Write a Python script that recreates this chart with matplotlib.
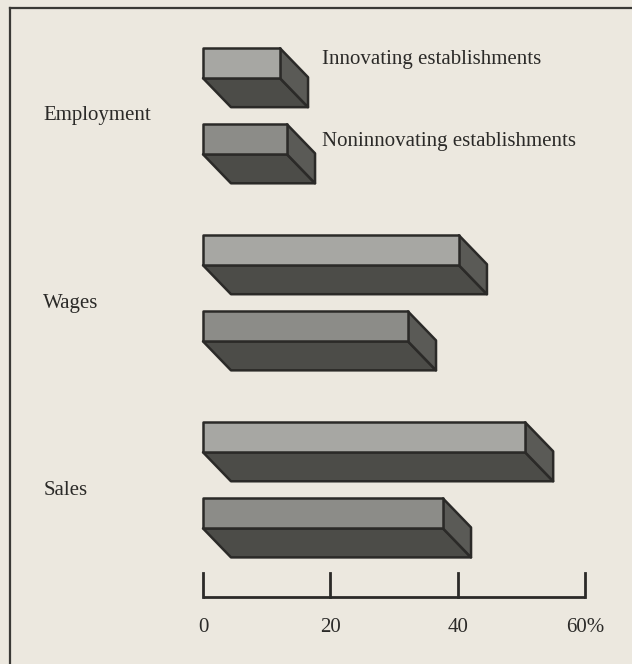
import matplotlib.pyplot as plt
from matplotlib.patches import Polygon

plt.rcParams['font.family'] = ['Liberation Serif', 'DejaVu Serif']

# Data (percent)
categories = ["Employment", "Wages", "Sales"]
series_names = ["Innovating establishments", "Noninnovating establishments"]
innovating = [12.1, 40.2, 50.6]
noninnovating = [13.2, 32.2, 37.7]
tick_values = [0, 20, 40, 60]
tick_labels = ["0", "20", "40", "60%"]

bg = "#ece8df"
ink = "#2b2a28"
top_colors = ["#a7a7a3", "#8c8c88"]
front_color = "#4c4c48"
side_color = "#5a5a56"

fig = plt.figure(figsize=(6.32, 6.64), dpi=100, facecolor=bg)
ax = fig.add_axes([0, 0, 1, 1])
ax.set_facecolor(bg)
ax.set_xlim(-31.88, 67.38)
ax.set_ylim(2.930, -0.620)
ax.axis("off")

# box geometry (x in %, y in group units)
face_h = 0.16
depth_x = 4.4
depth_y = 0.155
bar_offsets = [-0.362, 0.045]
legend_y = [-0.30, 0.139]


def draw_box(x_val, y_top, color):
    y_mid = y_top + face_h
    y_bot = y_mid + depth_y
    top = [(0, y_top), (x_val, y_top), (x_val, y_mid), (0, y_mid)]
    front = [(0, y_mid), (x_val, y_mid), (x_val + depth_x, y_bot), (depth_x, y_bot)]
    side = [(x_val, y_top), (x_val + depth_x, y_top + depth_y),
            (x_val + depth_x, y_bot), (x_val, y_mid)]
    ax.add_patch(Polygon(front, closed=True, fc=front_color, ec=ink, lw=1.8, joinstyle="round"))
    ax.add_patch(Polygon(side, closed=True, fc=side_color, ec=ink, lw=1.8, joinstyle="round"))
    ax.add_patch(Polygon(top, closed=True, fc=color, ec=ink, lw=1.8, joinstyle="round"))


for i, cat in enumerate(categories):
    for j, vals in enumerate([innovating, noninnovating]):
        draw_box(vals[i], i + bar_offsets[j], top_colors[j])
    ax.text(-25.1, i, cat, ha="left", va="center", fontsize=15, color=ink)

# legend labels beside the Employment boxes
for j, name in enumerate(series_names):
    ax.text(18.7, legend_y[j], name, ha="left", va="center", fontsize=15, color=ink)

# scale
axis_y = 2.572
ax.plot([tick_values[0], tick_values[-1]], [axis_y, axis_y], color=ink, lw=2,
        solid_capstyle="butt")
for v, lab in zip(tick_values, tick_labels):
    ax.plot([v, v], [axis_y, axis_y - 0.128], color=ink, lw=2)
    ax.text(v, axis_y + 0.165, lab, ha="center", va="center", fontsize=15, color=ink)

# frame (left and top edges)
ax.plot([-30.3, -30.3], [-0.578, 2.930], color="#3a3936", lw=1.6)
ax.plot([-30.3, 67.38], [-0.578, -0.578], color="#3a3936", lw=1.6)

fig.savefig("out.png", dpi=100, facecolor=bg)
